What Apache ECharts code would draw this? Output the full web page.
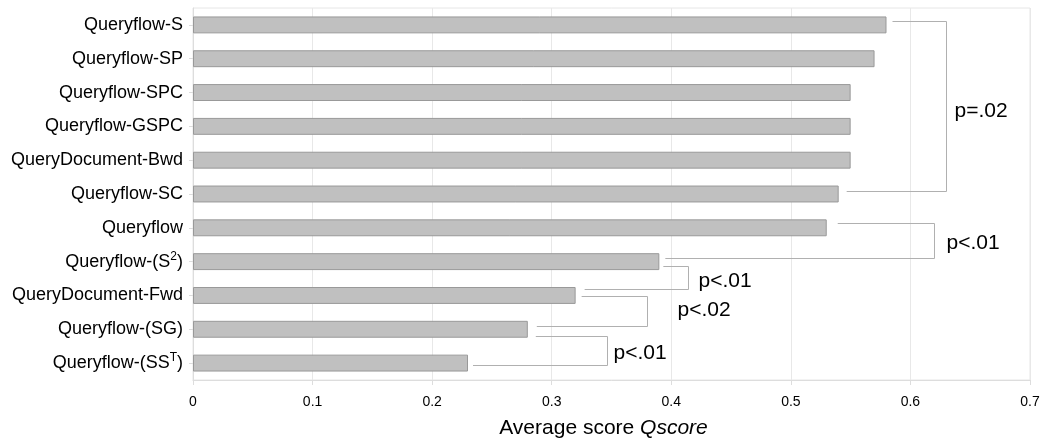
<!DOCTYPE html>
<html>
<head>
<meta charset="utf-8">
<script src="https://cdn.jsdelivr.net/npm/echarts@6/dist/echarts.min.js"></script>
<style>
html,body{margin:0;padding:0;background:#fff;}
#c{width:1045px;height:445px;}
</style>
</head>
<body>
<div id="c"></div>
<script>
// ---- data ----
const categories = [
  'Queryflow-S', 'Queryflow-SP', 'Queryflow-SPC', 'Queryflow-GSPC',
  'QueryDocument-Bwd', 'Queryflow-SC', 'Queryflow', 'Queryflow-(S^2)',
  'QueryDocument-Fwd', 'Queryflow-(SG)', 'Queryflow-(SS^T)'
];
const scores = [0.58, 0.57, 0.55, 0.55, 0.55, 0.54, 0.53, 0.39, 0.32, 0.28, 0.23];
const xTickValues = [0, 0.1, 0.2, 0.3, 0.4, 0.5, 0.6, 0.7];

// significance brackets (category indices, reach in score units, label)
const bracketTop = [0, 6, 7, 8, 9];
const bracketBottom = [5, 7, 8, 9, 10];
const bracketReach = [0.63, 0.62, 0.414, 0.38, 0.346];
const bracketLabels = ['p=.02', 'p<.01', 'p<.01', 'p<.02', 'p<.01'];

// ---- layout nudges (pixels) ----
const topGap = [6, 11, 4, 6, 8];
const botGap = [8, 6, 9, 9, 5];
const topDy = [-4, -5, 4, 1, 7];
const botDy = [-3, -4, -6, -3, 2];
const labDx = [8, 12, 10, 30, 6];
const labDy = [5, 2, 3, -1, 2];

const FONT = '"Liberation Sans", Arial, Helvetica, sans-serif';

function catLabel(s) {
  return '{n|' + s.replace(/\^(\w)/g, '}{s|$1}{n|') + '}';
}

const chart = echarts.init(document.getElementById('c'), null, {renderer: 'canvas'});
chart.setOption({
  animation: false,
  backgroundColor: '#fff',
  textStyle: {fontFamily: FONT},
  grid: {
    left: 193, right: 15, top: 8, bottom: 65,
    show: true, borderColor: '#e6e6e6', borderWidth: 1, backgroundColor: 'transparent'
  },
  xAxis: {
    type: 'value',
    min: xTickValues[0], max: xTickValues[xTickValues.length - 1], interval: 0.1,
    axisLine: {show: true, lineStyle: {color: '#dddddd'}},
    axisTick: {show: true, length: 5, lineStyle: {color: '#dddddd'}},
    splitLine: {show: true, lineStyle: {color: '#e8e8e8'}},
    axisLabel: {
      fontSize: 14, color: '#000', margin: 15, fontFamily: FONT,
      formatter: v => String(Math.round(v * 10) / 10)
    },
    name: '{a|Average score }{b|Qscore}',
    nameLocation: 'middle',
    nameGap: 38,
    nameTextStyle: {
      padding: [0, 16, 0, 0],
      rich: {
        a: {fontSize: 21, color: '#000', fontFamily: FONT},
        b: {fontSize: 21, color: '#000', fontStyle: 'italic', fontFamily: FONT}
      }
    }
  },
  yAxis: {
    type: 'category',
    inverse: true,
    data: categories,
    axisLine: {show: true, lineStyle: {color: '#dddddd'}},
    axisTick: {show: true, alignWithLabel: true, length: 4, lineStyle: {color: '#dddddd'}},
    splitLine: {show: false},
    axisLabel: {
      margin: 10,
      formatter: catLabel,
      rich: {
        n: {fontSize: 18, color: '#000', fontFamily: FONT, lineHeight: 22},
        s: {fontSize: 12, color: '#000', fontFamily: FONT, verticalAlign: 'top', lineHeight: 12}
      }
    }
  },
  series: [
    {
      type: 'bar',
      data: scores,
      barWidth: '50%',
      silent: true,
      itemStyle: {color: '#c0c0c0', borderColor: '#999999', borderWidth: 1}
    },
    {
      type: 'custom',
      silent: true,
      clip: false,
      encode: {x: 0, y: 1},
      data: bracketReach.map((r, i) => [r, bracketTop[i], bracketBottom[i]]),
      renderItem: function (params, api) {
        const i = params.dataIndex;
        const t = bracketTop[i], b = bracketBottom[i];
        const pT = api.coord([scores[t], t]);
        const pB = api.coord([scores[b], b]);
        const xr = Math.round(api.coord([api.value(0), t])[0]) + 0.5;
        const yT = Math.round(pT[1] + topDy[i]) + 0.5;
        const yB = Math.round(pB[1] + botDy[i]) + 0.5;
        return {
          type: 'group',
          children: [
            {
              type: 'polyline',
              shape: {points: [[pT[0] + topGap[i], yT], [xr, yT], [xr, yB], [pB[0] + botGap[i], yB]]},
              style: {stroke: '#b0b0b0', lineWidth: 1, fill: null}
            },
            {
              type: 'text',
              x: xr + labDx[i],
              y: (yT + yB) / 2 + labDy[i],
              style: {
                text: bracketLabels[i], fill: '#000',
                font: '21px ' + FONT,
                verticalAlign: 'middle', align: 'left'
              }
            }
          ]
        };
      }
    }
  ]
});
</script>
</body>
</html>
